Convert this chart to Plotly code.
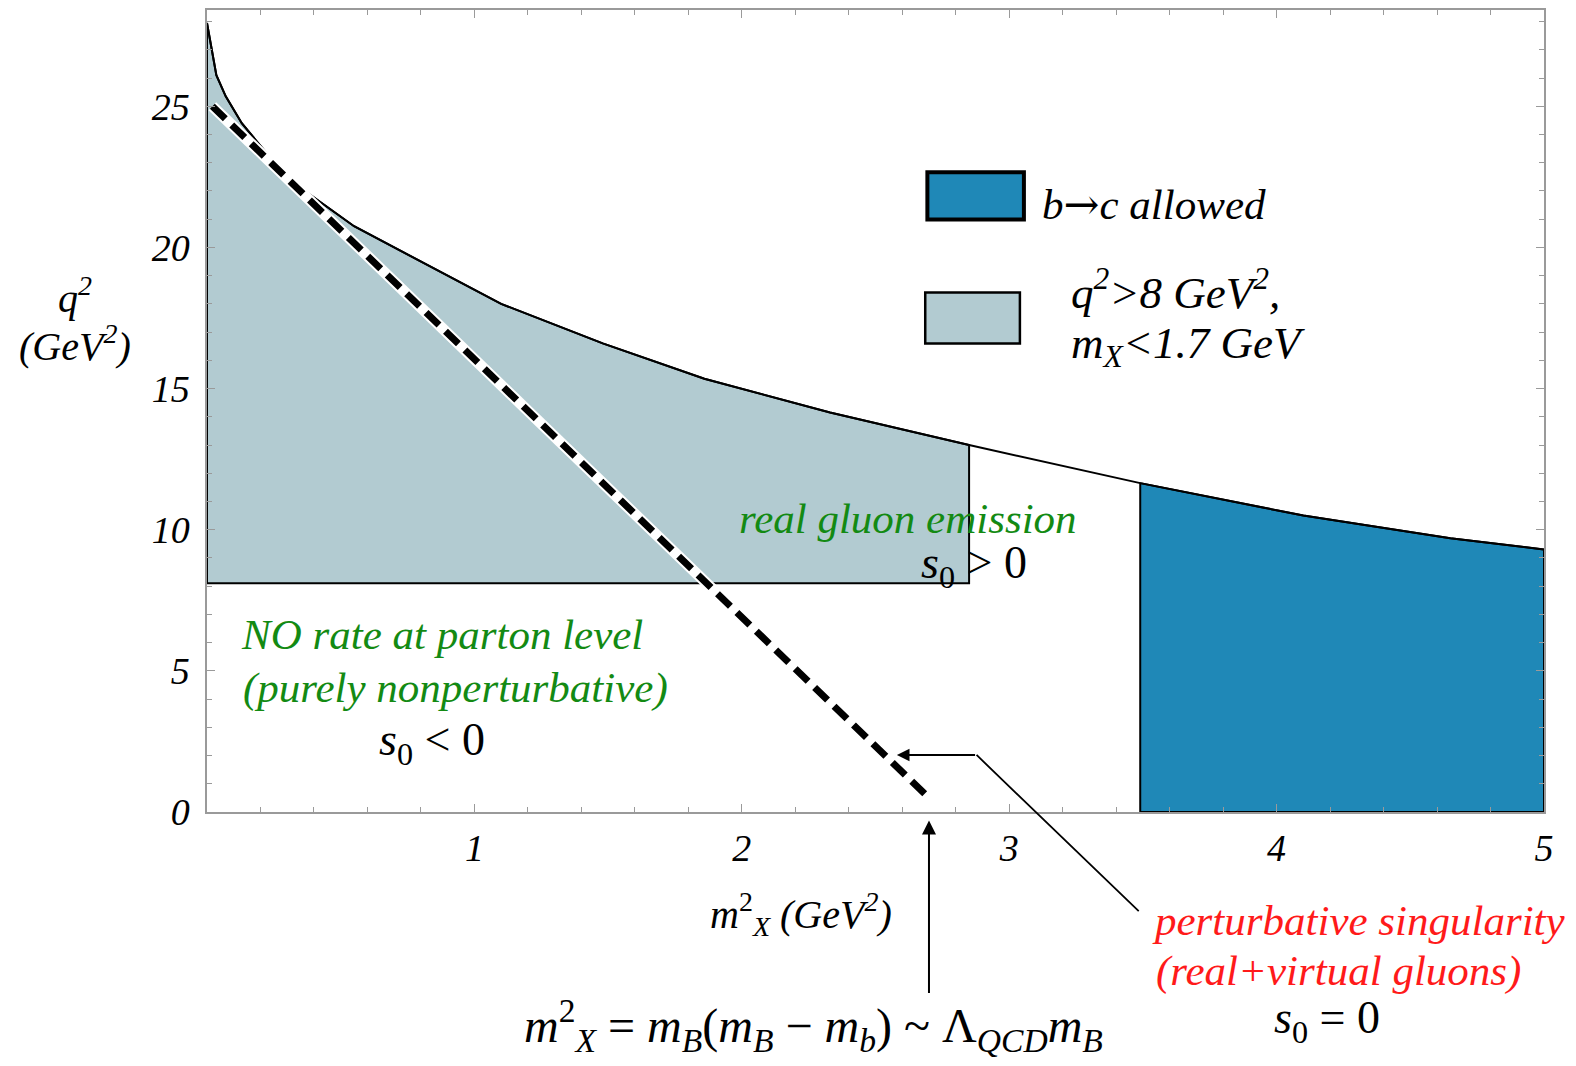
import plotly.graph_objects as go

# ---- data ----
upper_x = [0.0, 0.035, 0.07, 0.13, 0.30, 0.55, 1.10, 1.48, 1.86, 2.33, 2.85, 3.49, 4.10, 4.65, 5.0]
upper_q2 = [27.95, 26.1, 25.35, 24.4, 22.45, 20.75, 18.0, 16.6, 15.35, 14.15, 13.0, 11.65, 10.5, 9.7, 9.3]

cut_q2_min = 8.1       # q^2 > 8 GeV^2 region bottom
cut_mx2_max = 2.85     # m_X < 1.7 GeV region right edge
bc_mx2_min = 3.49      # b->c allowed threshold

sing_x = [0.02, 2.70]  # perturbative singularity line
sing_q2 = [25.0, 0.5]

x_ticks = [1, 2, 3, 4, 5]
y_ticks = [0, 5, 10, 15, 20, 25]

X_RANGE = [0, 5]
Y_RANGE = [0, 28.41]

FONT = "Liberation Serif"
LIGHT = "#b2cbd1"
DARK = "#1f88b7"
GREEN = "#138a13"
RED = "#ff1a1a"

W, H = 1560, 1050
ML, MR, MT, MB = 199, 24, 0, 246
PXU_X = (W - ML - MR) / (X_RANGE[1] - X_RANGE[0])
PXU_Y = (H - MT - MB) / (Y_RANGE[1] - Y_RANGE[0])

def px(x):
    return (x - X_RANGE[0]) / (X_RANGE[1] - X_RANGE[0])

def py(y):
    return (y - Y_RANGE[0]) / (Y_RANGE[1] - Y_RANGE[0])

fig = go.Figure()

# light region: q2 > cut, mX2 < cut
lx = [x for x in upper_x if x <= cut_mx2_max]
ly = [y for x, y in zip(upper_x, upper_q2) if x <= cut_mx2_max]
fig.add_trace(go.Scatter(
    x=[0] + lx + [cut_mx2_max, cut_mx2_max, 0, 0],
    y=[cut_q2_min] + ly + [ly[-1], cut_q2_min, cut_q2_min, ly[0]],
    fill="toself", fillcolor=LIGHT, mode="lines",
    line=dict(color="black", width=2), hoverinfo="skip", showlegend=False))

# dark region: b->c allowed
dx = [x for x in upper_x if x >= bc_mx2_min]
dy = [y for x, y in zip(upper_x, upper_q2) if x >= bc_mx2_min]
fig.add_trace(go.Scatter(
    x=[bc_mx2_min] + dx + [dx[-1], bc_mx2_min],
    y=[0] + dy + [0, 0],
    fill="toself", fillcolor=DARK, mode="lines",
    line=dict(color="black", width=2), hoverinfo="skip", showlegend=False))

# upper kinematic boundary
fig.add_trace(go.Scatter(x=upper_x, y=upper_q2, mode="lines",
                         line=dict(color="black", width=2), hoverinfo="skip", showlegend=False))

# singular line: white halo + black dashes
fig.add_trace(go.Scatter(x=sing_x, y=sing_q2, mode="lines",
                         line=dict(color="white", width=11), hoverinfo="skip", showlegend=False))
fig.add_trace(go.Scatter(x=sing_x, y=sing_q2, mode="lines",
                         line=dict(color="black", width=7, dash="18px,9px"),
                         hoverinfo="skip", showlegend=False))

# legend boxes
fig.add_shape(type="rect", x0=2.694, x1=3.055, y0=20.99, y1=22.66,
              fillcolor=DARK, line=dict(color="black", width=4))
fig.add_shape(type="rect", x0=2.686, x1=3.040, y0=16.6, y1=18.4,
              fillcolor=LIGHT, line=dict(color="black", width=2.5))

ann = []
def txt(x, y, text, size, color="black", xanchor="center"):
    ann.append(dict(x=px(x), y=py(y), xref="paper", yref="paper", text=text, showarrow=False,
                    xanchor=xanchor, yanchor="middle",
                    font=dict(family=FONT, size=size, color=color)))

def arrow(x, y, tx, ty, head=2, width=2):
    ann.append(dict(x=px(x), y=py(y), xref="paper", yref="paper",
                    ax=(tx - x) * PXU_X, ay=-(ty - y) * PXU_Y,
                    text="", showarrow=True, arrowhead=head, arrowsize=1.4, arrowwidth=width,
                    arrowcolor="black", standoff=0, startstandoff=0))

txt(3.115, 21.55, "<i>b<span style='font-family:DejaVu Serif'>→</span>c allowed</i>", 43, xanchor="left")
txt(3.225, 18.5, "<i>q<sup>2</sup>&gt;8 GeV<sup>2</sup>,</i>", 45, xanchor="left")
txt(3.225, 16.5, "<i>m<sub>X</sub>&lt;1.7 GeV</i>", 45, xanchor="left")

txt(2.62, 10.4, "<i>real gluon emission</i>", 43, GREEN)
txt(2.87, 8.7, "<i>s</i><sub>0</sub> &gt; 0", 46)
txt(0.88, 6.3, "<i>NO rate at parton level</i>", 43, GREEN)
txt(0.93, 4.4, "<i>(purely nonperturbative)</i>", 43, GREEN)
txt(0.84, 2.45, "<i>s</i><sub>0</sub> &lt; 0", 46)

txt(4.31, -3.85, "<i>perturbative singularity</i>", 43, RED)
txt(4.23, -5.62, "<i>(real+virtual gluons)</i>", 43, RED)
txt(4.19, -7.4, "<i>s</i><sub>0</sub> = 0", 46)

txt(2.27, -7.55, "<i>m</i><sup>2</sup><sub><i>X</i></sub> = <i>m</i><sub><i>B</i></sub>(<i>m</i><sub><i>B</i></sub> − <i>m</i><sub><i>b</i></sub>) ~ Λ<sub><i>QCD</i></sub><i>m</i><sub><i>B</i></sub>", 48)

# axis titles
txt(2.22, -3.6, "<i>m</i><sup>2</sup><sub><i>X</i></sub> <i>(GeV<sup>2</sup>)</i>", 40)
txt(-0.495, 18.3, "<i>q<sup>2</sup></i>", 40)
txt(-0.495, 16.6, "<i>(GeV<sup>2</sup>)</i>", 40)

# arrows
arrow(2.70, -0.3, 2.70, -6.45, head=2, width=2)
arrow(2.878, 2.02, 3.49, -3.55, head=0, width=1.8)
arrow(2.58, 2.02, 2.878, 2.02, head=2, width=1.8)

axis_common = dict(showgrid=False, zeroline=False, showline=True, linecolor="#9a9a9a",
                   linewidth=1.5, mirror="ticks", ticks="inside", tickcolor="#9a9a9a",
                   ticklen=8, tickwidth=1,
                   tickfont=dict(family=FONT, size=38, color="black", style="italic"))

fig.update_layout(
    width=W, height=H,
    margin=dict(l=ML, r=MR, t=MT, b=MB),
    plot_bgcolor="white", paper_bgcolor="white",
    xaxis=dict(range=X_RANGE, tickvals=x_ticks, ticktext=[str(v) for v in x_ticks],
               ticklabelstandoff=2,
               minor=dict(dtick=0.2, ticks="inside", ticklen=5, tickcolor="#9a9a9a"),
               **axis_common),
    yaxis=dict(range=Y_RANGE, tickvals=y_ticks, ticktext=[str(v) for v in y_ticks],
               ticklabelstandoff=8,
               minor=dict(dtick=1, ticks="inside", ticklen=5, tickcolor="#9a9a9a"),
               **axis_common),
    annotations=ann,
)

fig.write_html("out.html")
